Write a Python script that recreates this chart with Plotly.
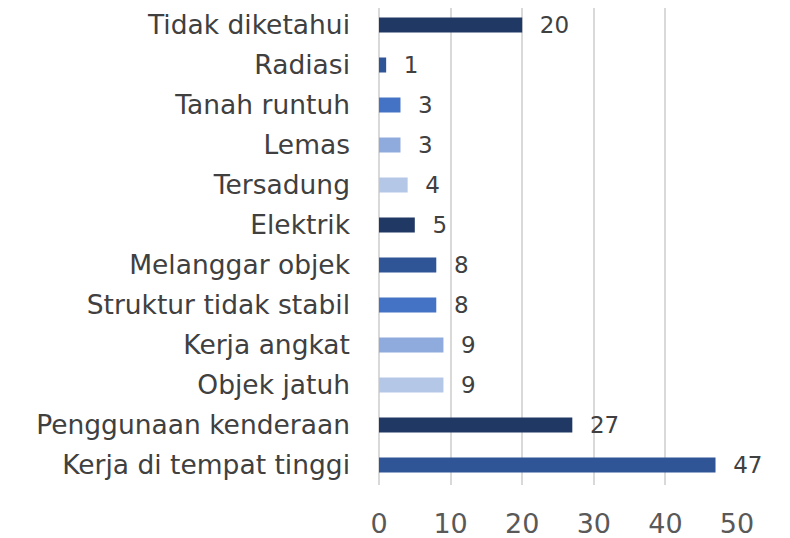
import plotly.graph_objects as go

categories = ["Kerja di tempat tinggi", "Penggunaan kenderaan", "Objek jatuh", "Kerja angkat",
              "Struktur tidak stabil", "Melanggar objek", "Elektrik", "Tersadung", "Lemas",
              "Tanah runtuh", "Radiasi", "Tidak diketahui"]
values = [47, 27, 9, 9, 8, 8, 5, 4, 3, 3, 1, 20]
bar_colors = ["#2F5597", "#203864", "#B4C7E7", "#8FAADC", "#4472C4", "#2F5597",
              "#203864", "#B4C7E7", "#8FAADC", "#4472C4", "#2F5597", "#203864"]
x_ticks = [0, 10, 20, 30, 40, 50]

FONT = "DejaVu Sans"

fig = go.Figure(go.Bar(
    x=values, y=categories, orientation="h",
    marker=dict(color=bar_colors, line=dict(width=0)),
    width=0.375,
    text=["  " + str(v) for v in values], textposition="outside",
    textfont=dict(size=23, color="#404040", family=FONT),
    constraintext="none",
    cliponaxis=False,
))

# page body has an 8px default margin, so the figure is sized/offset to compensate
fig.update_layout(
    width=782, height=530,
    margin=dict(l=371, r=53, t=0, b=53),
    paper_bgcolor="white", plot_bgcolor="white",
    showlegend=False,
    font=dict(family=FONT),
)
fig.update_xaxes(range=[0, 50], tickvals=x_ticks, showgrid=True, gridcolor="#D9D9D9", gridwidth=1.5,
                 zeroline=True, zerolinecolor="#D9D9D9", zerolinewidth=1.5,
                 showline=False, ticks="", automargin=False,
                 tickfont=dict(size=27, color="#595959", family=FONT), ticklabelstandoff=20)
fig.update_yaxes(categoryorder="array", categoryarray=categories, showgrid=False, zeroline=False,
                 showline=False, ticks="", automargin=False,
                 tickfont=dict(size=26.5, color="#404040", family=FONT),
                 ticklabelstandoff=28, range=[-0.5, 11.425])

fig.write_html("out.html")
